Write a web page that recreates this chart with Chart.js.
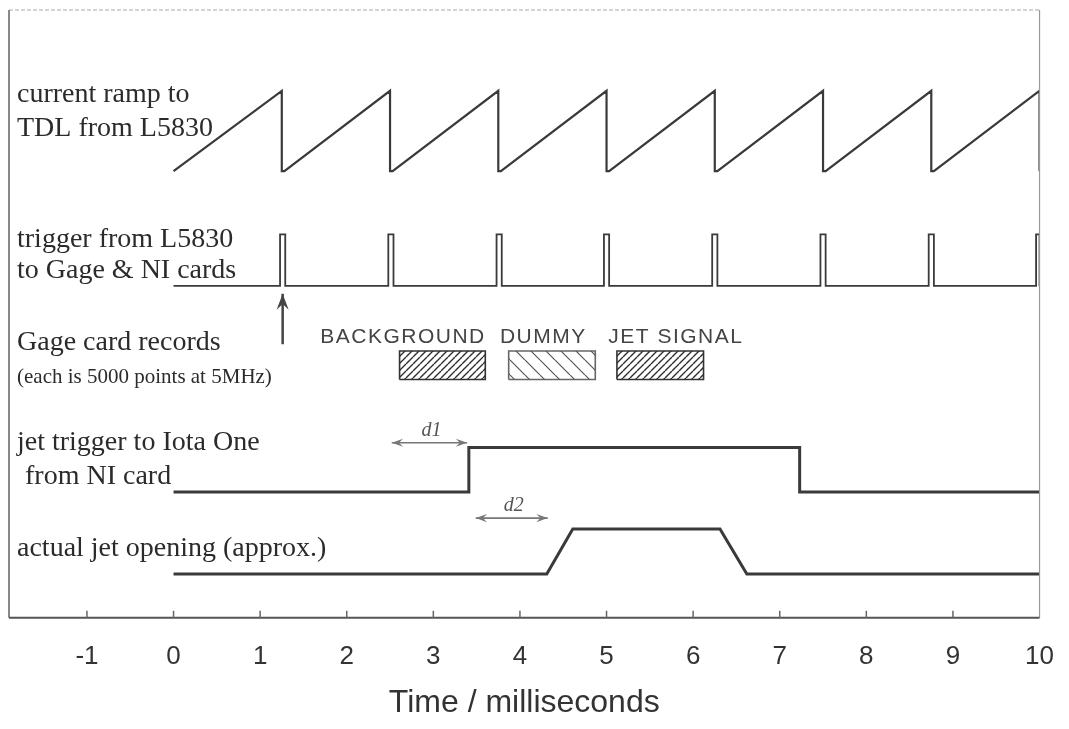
<!DOCTYPE html>
<html>
<head>
<meta charset="utf-8">
<title>Timing diagram</title>
<script src="https://cdn.jsdelivr.net/npm/chart.js@4.4.1/dist/chart.umd.min.js"></script>
<style>
  html, body { margin: 0; padding: 0; background: #fff; }
</style>
</head>
<body>
<canvas id="timingChart" width="1069" height="729"></canvas>
<script>
// time axis (ms)
const xTicks = [-1, 0, 1, 2, 3, 4, 5, 6, 7, 8, 9, 10];

// current ramp to TDL from L5830 (0 = bottom of ramp, 1 = top)
const rampTime  = [0, 1.25, 1.25, 1.28, 2.50, 2.50, 2.53, 3.75, 3.75, 3.78, 5.00, 5.00, 5.03, 6.25, 6.25, 6.28, 7.50, 7.50, 7.53, 8.75, 8.75, 8.78, 10.0, 10.0];
const rampLevel = [0, 1, 0, 0, 1, 0, 0, 1, 0, 0, 1, 0, 0, 1, 0, 0, 1, 0, 0, 1, 0, 0, 1, 0];

// trigger pulses from L5830
const trigTime  = [0, 1.23, 1.23, 1.29, 1.29, 2.48, 2.48, 2.54, 2.54, 3.73, 3.73, 3.79, 3.79, 4.97, 4.97, 5.03, 5.03,
                   6.22, 6.22, 6.28, 6.28, 7.47, 7.47, 7.53, 7.53, 8.72, 8.72, 8.78, 8.78, 9.96, 9.96, 10.0, 10.0];
const trigLevel = [0, 0, 1, 1, 0, 0, 1, 1, 0, 0, 1, 1, 0, 0, 1, 1, 0,
                   0, 1, 1, 0, 0, 1, 1, 0, 0, 1, 1, 0, 0, 1, 1, 0];

// Gage card record windows
const recordNames = ['BACKGROUND', 'DUMMY', 'JET SIGNAL'];
const recordStart = [2.61, 3.87, 5.12];
const recordEnd   = [3.60, 4.87, 6.12];

// jet trigger to Iota One
const jetTrigTime  = [0, 3.41, 3.41, 7.23, 7.23, 10.0];
const jetTrigLevel = [0, 0, 1, 1, 0, 0];

// actual jet opening
const jetOpenTime  = [0, 4.31, 4.61, 6.31, 6.62, 10.0];
const jetOpenLevel = [0, 0, 1, 1, 0, 0];

// delays d1, d2
const delayNames = ['d1', 'd2'];
const delayStart = [2.52, 3.49];
const delayEnd   = [3.39, 4.32];

// trigger that starts the acquisition
const markerTime = 1.26;

// vertical lane placement on a hidden 0..10 axis
const lanes = {
  ramp:    { base: 7.35, height: 1.32 },
  trigger: { base: 5.46, height: 0.85 },
  record:  { base: 3.92, height: 0.47 },
  jetTrig: { base: 2.07, height: 0.73 },
  jetOpen: { base: 0.72, height: 0.74 },
  marker:  { from: 4.50, to: 5.33 },
  delay:   [2.88, 1.64]
};

const leftLabels = [
  { text: 'current ramp to', y: 8.49 },
  { text: 'TDL from L5830', y: 7.92 },
  { text: 'trigger from L5830', y: 6.10 },
  { text: 'to Gage & NI cards', y: 5.59 },
  { text: 'Gage card records', y: 4.41 },
  { text: '(each is 5000 points at 5MHz)', y: 3.87, small: true },
  { text: 'jet trigger to Iota One', y: 2.76 },
  { text: 'from NI card', y: 2.20, indent: 8 },
  { text: 'actual jet opening (approx.)', y: 1.02 }
];
const recordLabelAt = [2.65, 4.27, 5.80];

const INK = '#3a3a3a';

function toPoints(times, levels, lane) {
  return times.map((t, i) => ({ x: t, y: lane.base + levels[i] * lane.height }));
}

function hatch(size, forward, width, color) {
  const c = document.createElement('canvas');
  c.width = size; c.height = size;
  const g = c.getContext('2d');
  g.strokeStyle = color;
  g.lineWidth = width;
  g.beginPath();
  for (let k = -1; k <= 1; k++) {
    if (forward) {
      g.moveTo(k * size, size); g.lineTo(k * size + size, 0);
    } else {
      g.moveTo(k * size, 0); g.lineTo(k * size + size, size);
    }
  }
  g.stroke();
  return g.createPattern(c, 'repeat');
}

const patterns = [hatch(7, true, 1.4, '#2e2e2e'), hatch(15, false, 1.2, '#555'), hatch(7, true, 1.4, '#2e2e2e')];

function signal(points, width) {
  return { data: points, borderColor: INK, borderWidth: width, pointRadius: 0, tension: 0, fill: false };
}

const datasets = [
  signal(toPoints(rampTime, rampLevel, lanes.ramp), 2.2),
  signal(toPoints(trigTime, trigLevel, lanes.trigger), 1.8),
  signal(toPoints(jetTrigTime, jetTrigLevel, lanes.jetTrig), 3),
  signal(toPoints(jetOpenTime, jetOpenLevel, lanes.jetOpen), 3)
];

recordNames.forEach((name, i) => {
  const b = lanes.record.base, t = b + lanes.record.height;
  // hatched area: top edge filled down to the box bottom
  datasets.push({
    data: [{ x: recordStart[i], y: t }, { x: recordEnd[i], y: t }],
    borderWidth: 0,
    borderColor: 'rgba(0,0,0,0)',
    backgroundColor: patterns[i],
    fill: { value: b },
    pointRadius: 0,
    tension: 0
  });
  // box outline
  datasets.push({
    data: [{ x: recordStart[i], y: b }, { x: recordStart[i], y: t }, { x: recordEnd[i], y: t }, { x: recordEnd[i], y: b }, { x: recordStart[i], y: b }],
    borderColor: i === 1 ? '#666' : '#333',
    borderWidth: 1.6,
    fill: false,
    pointRadius: 0,
    tension: 0
  });
});

// arrow shafts
const arrowSets = [];
datasets.push({ data: [{ x: markerTime, y: lanes.marker.from }, { x: markerTime, y: lanes.marker.to }],
  borderColor: '#444', borderWidth: 2.5, pointRadius: 0, fill: false });
arrowSets.push({ index: datasets.length - 1, both: false, size: 17, spread: 0.36 });
delayNames.forEach((name, i) => {
  datasets.push({ data: [{ x: delayStart[i], y: lanes.delay[i] }, { x: delayEnd[i], y: lanes.delay[i] }],
    borderColor: '#777', borderWidth: 1.6, pointRadius: 0, fill: false });
  arrowSets.push({ index: datasets.length - 1, both: true, size: 12, spread: 0.35, label: name });
});

function arrowHead(ctx, from, to, size, spread) {
  const ang = Math.atan2(to.y - from.y, to.x - from.x);
  ctx.beginPath();
  ctx.moveTo(to.x, to.y);
  ctx.lineTo(to.x - size * Math.cos(ang - spread), to.y - size * Math.sin(ang - spread));
  ctx.lineTo(to.x - size * 0.6 * Math.cos(ang), to.y - size * 0.6 * Math.sin(ang));
  ctx.lineTo(to.x - size * Math.cos(ang + spread), to.y - size * Math.sin(ang + spread));
  ctx.closePath();
  ctx.fill();
}

const diagramDecor = {
  id: 'diagramDecor',
  afterDatasetsDraw(chart) {
    const { ctx, chartArea: a, scales: { x, y } } = chart;
    ctx.save();

    // frame
    ctx.strokeStyle = '#aaa'; ctx.lineWidth = 1.2; ctx.setLineDash([4, 2]);
    ctx.beginPath(); ctx.moveTo(a.left, a.top); ctx.lineTo(a.right, a.top); ctx.stroke();
    ctx.setLineDash([]);
    ctx.strokeStyle = '#888'; ctx.lineWidth = 2;
    ctx.beginPath(); ctx.moveTo(a.left, a.top); ctx.lineTo(a.left, a.bottom); ctx.stroke();
    ctx.strokeStyle = '#999'; ctx.lineWidth = 1.2;
    ctx.beginPath(); ctx.moveTo(a.right, a.top); ctx.lineTo(a.right, a.bottom); ctx.stroke();
    ctx.strokeStyle = '#555'; ctx.lineWidth = 2;
    ctx.beginPath(); ctx.moveTo(a.left, a.bottom); ctx.lineTo(a.right, a.bottom); ctx.stroke();

    // inward ticks
    ctx.lineWidth = 1.5; ctx.strokeStyle = '#666';
    x.ticks.forEach(tk => {
      if (tk.value >= 10) return;
      const px = x.getPixelForValue(tk.value);
      ctx.beginPath(); ctx.moveTo(px, a.bottom); ctx.lineTo(px, a.bottom - 7); ctx.stroke();
    });

    // arrow heads
    arrowSets.forEach(s => {
      const pts = chart.getDatasetMeta(s.index).data;
      const p0 = { x: pts[0].x, y: pts[0].y }, p1 = { x: pts[1].x, y: pts[1].y };
      ctx.fillStyle = chart.data.datasets[s.index].borderColor;
      arrowHead(ctx, p0, p1, s.size, s.spread);
      if (s.both) arrowHead(ctx, p1, p0, s.size, s.spread);
      if (s.label) {
        ctx.font = 'italic 20px "Liberation Serif"';
        ctx.fillStyle = '#555';
        ctx.textAlign = 'center'; ctx.textBaseline = 'alphabetic';
        ctx.fillText(s.label, (p0.x + p1.x) / 2 + 2, p0.y - 7);
      }
    });

    // lane labels
    ctx.fillStyle = '#2b2b2b';
    ctx.textAlign = 'left'; ctx.textBaseline = 'alphabetic';
    leftLabels.forEach(l => {
      ctx.font = l.small ? '21px "Liberation Serif"' : '28px "Liberation Serif"';
      ctx.fillText(l.text, a.left + 8 + (l.indent || 0), y.getPixelForValue(l.y));
    });

    // record window names
    ctx.font = '21px "Liberation Sans"';
    ctx.letterSpacing = '1.5px';
    ctx.fillStyle = '#444';
    ctx.textAlign = 'center';
    recordNames.forEach((n, i) => {
      ctx.fillText(n, x.getPixelForValue(recordLabelAt[i]), y.getPixelForValue(lanes.record.base + lanes.record.height) - 8);
    });

    ctx.restore();
  }
};

new Chart(document.getElementById('timingChart'), {
  type: 'line',
  data: { datasets: datasets },
  options: {
    responsive: false,
    animation: false,
    events: [],
    layout: { padding: { left: 9, right: 29, top: 10, bottom: 10 } },
    plugins: { legend: { display: false }, tooltip: { enabled: false } },
    scales: {
      x: {
        type: 'linear',
        min: -1.9,
        max: 10,
        afterBuildTicks: axis => { axis.ticks = xTicks.map(v => ({ value: v })); },
        grid: { display: false },
        border: { display: false },
        ticks: { padding: 15, color: '#333', font: { family: 'Liberation Sans', size: 26 } },
        title: { display: true, text: 'Time / milliseconds', color: '#333', padding: 0,
                 font: { family: 'Liberation Sans', size: 32, lineHeight: 1.0 } }
      },
      y: { type: 'linear', min: 0, max: 10, display: false }
    }
  },
  plugins: [diagramDecor]
});
</script>
</body>
</html>
